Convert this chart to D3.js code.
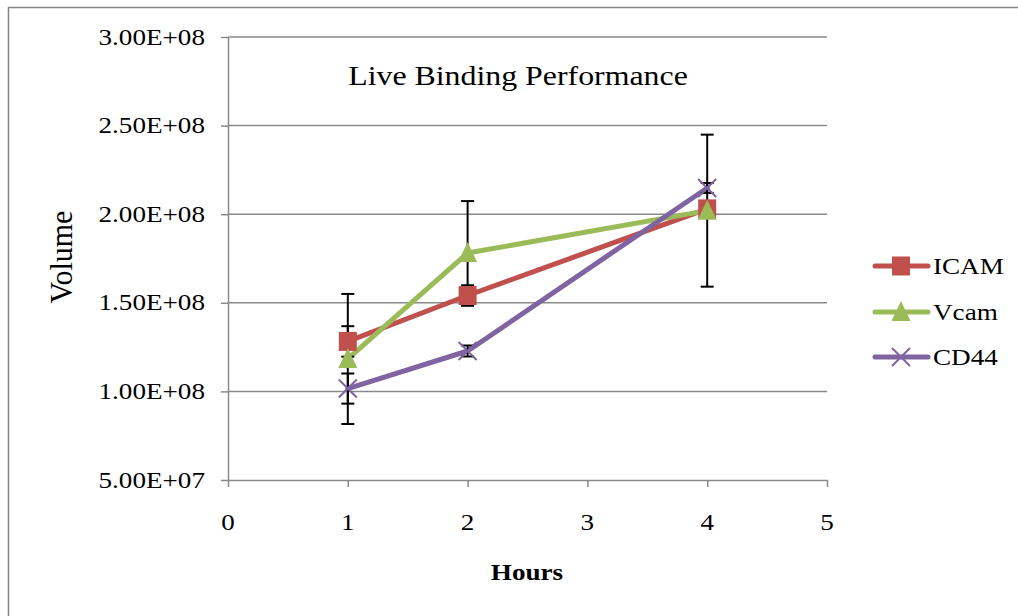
<!DOCTYPE html>
<html>
<head>
<meta charset="utf-8">
<script src="https://cdn.jsdelivr.net/npm/d3@7"></script>
<style>
  html, body { margin: 0; padding: 0; background: #fff; }
  svg { display: block; }
  text { font-family: "Liberation Serif", "Times New Roman", serif; fill: #000; }
</style>
</head>
<body>
<svg id="chart" width="1018" height="616"></svg>
<script>
// Live binding volume over time, three receptor targets
const hours = [1, 2, 4];
const icam = [1.282e8, 1.541e8, 2.03e8];
const vcam = [1.183e8, 1.781e8, 2.02e8];
const cd44 = [1.016e8, 1.228e8, 2.148e8];
// symmetric error bar half-widths
const icamErr = [0.086e8, 0.058e8, 0.02e8];
const vcamErr = [0.367e8, 0.293e8, 0.429e8];
const cd44Err = [0.085e8, 0.031e8, 0.028e8];

const seriesNames = ["ICAM", "Vcam", "CD44"];
const xTicks = [0, 1, 2, 3, 4, 5];
const yTicks = [5e7, 1e8, 1.5e8, 2e8, 2.5e8, 3e8];

const colors = { ICAM: "#C0504D", Vcam: "#9BBB59", CD44: "#8064A2" };
const markers = { ICAM: "square", Vcam: "triangle", CD44: "cross" };
const SX = 1.18; // horizontal glyph stretch used throughout the text

const series = [
  { name: "ICAM", values: icam, err: icamErr },
  { name: "Vcam", values: vcam, err: vcamErr },
  { name: "CD44", values: cd44, err: cd44Err }
];

const svg = d3.select("#chart");

// outer chart frame
svg.append("rect")
  .attr("x", 8.5).attr("y", 7.5)
  .attr("width", 1030).attr("height", 640)
  .attr("fill", "#fff")
  .attr("stroke", "#868686").attr("stroke-width", 1.5);

const plot = { left: 228, right: 827, top: 37, bottom: 480 };
const x = d3.scaleLinear().domain([0, 5]).range([plot.left, plot.right]);
const y = d3.scaleLinear().domain([5e7, 3e8]).range([plot.bottom, plot.top]);

function sci(v) {
  const [m, e] = v.toExponential(2).split("e");
  const n = +e;
  return m + "E" + (n < 0 ? "-" : "+") + String(Math.abs(n)).padStart(2, "0");
}

function stretched(parent, px, py, str, opts = {}) {
  return parent.append("text")
    .attr("transform", `translate(${px},${py}) scale(${opts.sx || SX},1)`)
    .attr("text-anchor", opts.anchor || "start")
    .attr("font-size", opts.size || 23)
    .attr("font-weight", opts.weight || "normal")
    .text(str);
}

// horizontal gridlines
svg.append("g")
  .selectAll("line")
  .data(yTicks.filter(t => t > 5e7))
  .join("line")
  .attr("x1", plot.left).attr("x2", plot.right)
  .attr("y1", d => y(d)).attr("y2", d => y(d))
  .attr("stroke", "#8a8a8a").attr("stroke-width", 1.5);

// axes
const gy = svg.append("g")
  .attr("transform", `translate(${plot.left},0)`)
  .call(d3.axisLeft(y).tickValues(yTicks).tickSize(7).tickSizeOuter(0).tickFormat(""));
const gx = svg.append("g")
  .attr("transform", `translate(0,${plot.bottom})`)
  .call(d3.axisBottom(x).tickValues(xTicks).tickSize(7).tickSizeOuter(0).tickFormat(""));
[gy, gx].forEach(g => {
  g.selectAll("path, line").attr("stroke", "#8a8a8a").attr("stroke-width", 1.5);
});

// tick labels
yTicks.forEach(t => stretched(svg, plot.left - 23, y(t) + 7.5, sci(t), { anchor: "end", size: 23 }));
xTicks.forEach(t => stretched(svg, x(t), 530, String(t), { anchor: "middle", size: 23 }));

// titles
stretched(svg, 518, 85, "Live Binding Performance", { anchor: "middle", size: 27 });
stretched(svg, 527, 580, "Hours", { anchor: "middle", size: 23, weight: "bold" });
svg.append("text")
  .attr("transform", "translate(72,257) rotate(-90) scale(1,1.08)")
  .attr("text-anchor", "middle")
  .attr("font-size", 30)
  .text("Volume");

// series lines
const line = d3.line().x(d => x(d[0])).y(d => y(d[1]));
svg.append("g").selectAll("path")
  .data(series)
  .join("path")
  .attr("d", s => line(hours.map((h, i) => [h, s.values[i]])))
  .attr("fill", "none")
  .attr("stroke", s => colors[s.name])
  .attr("stroke-width", 5)
  .attr("stroke-linejoin", "round")
  .attr("stroke-linecap", "round");

// error bars
const eb = svg.append("g").attr("stroke", "#000").attr("stroke-width", 2);
series.forEach(s => {
  hours.forEach((h, i) => {
    const cx = x(h), lo = y(s.values[i] - s.err[i]), hi = y(s.values[i] + s.err[i]);
    eb.append("line").attr("x1", cx).attr("x2", cx).attr("y1", lo).attr("y2", hi);
    eb.append("line").attr("x1", cx - 6.5).attr("x2", cx + 6.5).attr("y1", lo).attr("y2", lo);
    eb.append("line").attr("x1", cx - 6.5).attr("x2", cx + 6.5).attr("y1", hi).attr("y2", hi);
  });
});

function drawMarker(g, kind, cx, cy, color) {
  if (kind === "square") {
    g.append("rect").attr("x", cx - 9).attr("y", cy - 9.5).attr("width", 18).attr("height", 19)
      .attr("fill", color);
  } else if (kind === "triangle") {
    g.append("path")
      .attr("d", `M${cx},${cy - 11}L${cx + 9.5},${cy + 9}L${cx - 9.5},${cy + 9}Z`)
      .attr("fill", color);
  } else {
    g.append("path")
      .attr("d", `M${cx - 9},${cy - 9}L${cx + 9},${cy + 9}M${cx - 9},${cy + 9}L${cx + 9},${cy - 9}`)
      .attr("stroke", color).attr("stroke-width", 2).attr("fill", "none");
  }
}

// markers
const mk = svg.append("g");
series.forEach(s => {
  hours.forEach((h, i) => drawMarker(mk, markers[s.name], x(h), y(s.values[i]), colors[s.name]));
});

// legend
const legendY = [266, 312, 357];
const lg = svg.append("g");
seriesNames.forEach((name, i) => {
  const ly = legendY[i];
  lg.append("line").attr("x1", 875).attr("x2", 928).attr("y1", ly).attr("y2", ly)
    .attr("stroke", colors[name]).attr("stroke-width", 5).attr("stroke-linecap", "round");
  drawMarker(lg, markers[name], 901, ly, colors[name]);
  stretched(lg, 933, ly + 8, name, { size: 23 });
});
</script>
</body>
</html>
